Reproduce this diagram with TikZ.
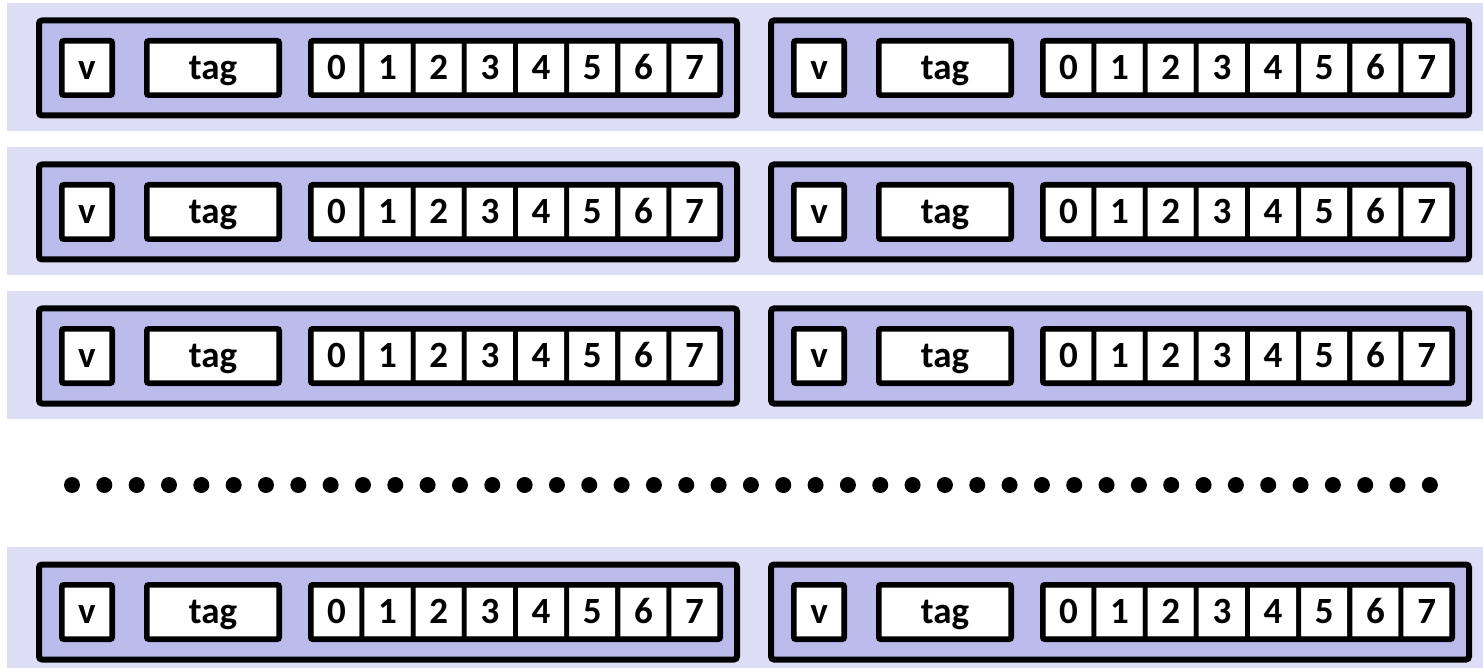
\documentclass[tikz,border=0pt]{standalone}
\usepackage{fontspec}
\setmainfont{Carlito}
\definecolor{setbg}{RGB}{221,221,245}
\definecolor{lineblue}{RGB}{188,188,236}

\tikzset{
  field/.style={draw, line width=2.8pt, fill=white, rounded corners=1pt,
    inner sep=0pt, outer sep=0pt, minimum height=27.2pt,
    font=\fontsize{18.5}{20}\selectfont\bfseries, text height=11.7pt, text depth=0pt},
  cell/.style={field, line width=2.4pt, minimum width=25.59pt},
  linebox/.style={draw, line width=3pt, fill=lineblue, rounded corners=1.5pt,
    inner sep=0pt, outer sep=0pt, minimum width=349pt, minimum height=47.5pt},
}

\begin{document}
\begin{tikzpicture}[x=0.5pt, y=-0.5pt]
  \useasboundingbox (0,0) rectangle (1483,668);
  % four sets, two lines each
  \foreach \r/\y in {1/68, 2/212, 3/356, 4/612} {
    \fill[setbg] (7,\y-65) rectangle (1483,\y+63);
    \foreach \h/\o in {1/0, 2/732} {
      \node[linebox] (line-\r-\h) at (388+\o,\y) {};
      \node[field, minimum width=25.2pt] (v-\r-\h) at (87+\o,\y) {v};
      \node[field, minimum width=66.2pt] (tag-\r-\h) at (213+\o,\y) {tag};
      \foreach \k in {0,...,7}
        \node[cell] (b-\r-\h-\k) at (336.39+51.175*\k+\o,\y) {\k};
      \draw[line width=2.8pt, rounded corners=1pt] (b-\r-\h-0.north west) rectangle (b-\r-\h-7.south east);
    }
  }
  % the sets left out
  \foreach \i in {0,...,42}
    \fill (72+32.33*\i,485) circle[radius=4pt];
\end{tikzpicture}
\end{document}
